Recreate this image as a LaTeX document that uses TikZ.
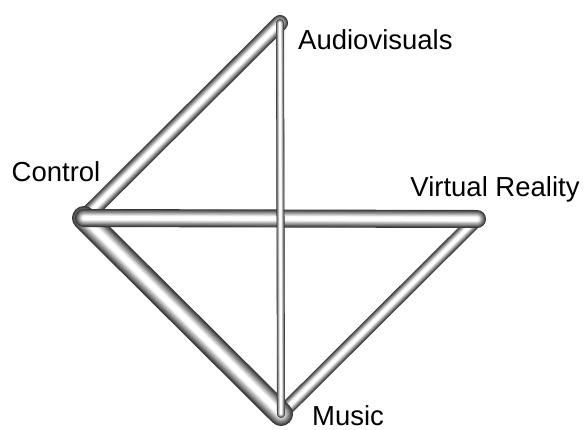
\documentclass[tikz,border=0pt]{standalone}
\usepackage{fontspec}
\setmainfont{Liberation Sans}
\usetikzlibrary{positioning}

% shaded tube between two named points
\newcommand\pipe[3]{%
  \foreach \k in {0,...,13}{%
    \pgfmathsetmacro\tw{#3*(1-\k/14)}%
    \pgfmathsetmacro\tc{max(0,80-7.5*\k)}%
    \draw[line width=\tw pt, line cap=round, draw=black!\tc] (#1) -- (#2);
  }}

\begin{document}
\begin{tikzpicture}[
    x=1pt, y=-1pt,
    lbl/.style={font=\fontsize{27.5}{32}\selectfont, inner sep=0pt}
]
    \useasboundingbox (0,0) rectangle (585,429);

    \coordinate (av) at (280,23);
    \coordinate (ctrl) at (84,218);
    \coordinate (vr) at (477,219);
    \coordinate (music) at (281,414);

    \node[lbl, anchor=west] (avlbl) at (298,40) {Audiovisuals};
    \node[lbl] (ctrllbl) at (56,172) {Control};
    \node[lbl] (vrlbl) at (495,189) {Virtual Reality};
    \node[lbl] (musiclbl) at (348,416) {Music};

    \pipe{ctrl}{av}{16}
    \pipe{vr}{music}{14}
    \pipe{ctrl}{music}{24}
    \pipe{ctrl}{vr}{18}
    \pipe{av}{music}{8}
\end{tikzpicture}
\end{document}
